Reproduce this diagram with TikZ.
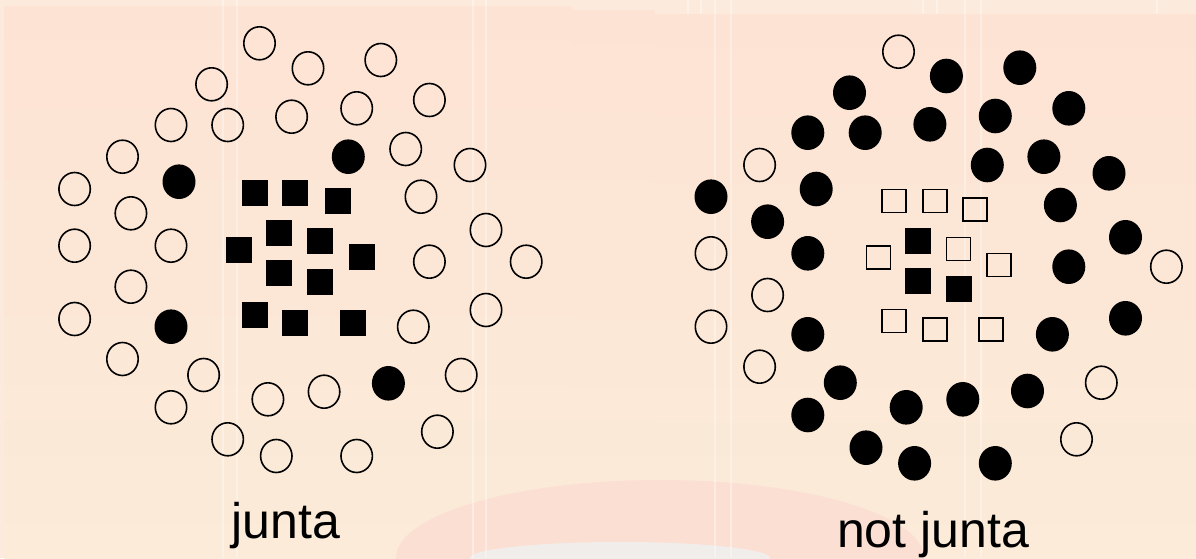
\documentclass[tikz,border=0pt]{standalone}
\usepackage{fontspec}
\setmainfont{Liberation Sans}
\usetikzlibrary{shapes.geometric}
\definecolor{bgtop}{HTML}{FDE3D4}
\definecolor{bgbot}{HTML}{FBEBD8}
\definecolor{bgstrip}{HTML}{FCEADC}
\definecolor{pinkarc}{HTML}{FCDFD3}
\definecolor{greyarc}{HTML}{F1EDEA}
\tikzset{
  opencirc/.style={ellipse,draw=black,line width=0.8pt,fill=none,minimum width=15.7pt,minimum height=16.5pt,inner sep=0pt},
  fullcirc/.style={ellipse,fill=black,minimum width=16.5pt,minimum height=17.3pt,inner sep=0pt},
  fullsq/.style={rectangle,fill=black,minimum size=13pt,inner sep=0pt},
  opensq/.style={rectangle,draw=black,line width=0.7pt,minimum width=12pt,minimum height=11.5pt,inner sep=0pt},
  label/.style={font=\fontsize{25pt}{30pt}\selectfont,anchor=base,inner sep=0pt},
  faint/.style={draw=white,opacity=0.35,line width=0.6pt}
}
\begin{document}
\begin{tikzpicture}[x=0.5pt,y=-0.5pt]
\useasboundingbox (0,0) rectangle (1196,558);
% background
\fill[bgstrip] (0,0) rectangle (1196,558);
\shade[top color=bgtop,bottom color=bgbot] (4,6) rectangle (572,558);
\shade[top color=bgtop,bottom color=bgbot] (572,10) rectangle (655,558);
\shade[top color=bgtop,bottom color=bgbot] (655,14) rectangle (1196,558);
\fill[pinkarc] (660,558) ellipse[x radius=264,y radius=78];
\fill[greyarc] (620,558) ellipse[x radius=150,y radius=16];
\foreach \xx in {223,237,473,486}{\draw[faint] (\xx,0) -- (\xx,558);}
\foreach \xx in {715,731,965,981}{\draw[faint] (\xx,0) -- (\xx,558);}
\foreach \xx in {688,701,923,937,1157}{\draw[faint] (\xx,0) -- (\xx,14);}
% left: junta
\foreach \px/\py [count=\i] in {259.5/43.3,308/68.3,380.8/60,211.6/84.3,429.4/100,171/125,227.7/125,291.6/116.7,356.7/108.3,405.7/149,122.5/156.7,470/165,74.6/189,130.9/213.3,421/196.7,486/230,74.6/245.7,171/245.7,429.4/261.7,526.2/261.7,130.9/286.7,74.6/319,413.3/326.7,486/310,122.5/359,203.6/375,461.2/375,171/407.3,267.9/399.3,324.1/391.7,437.4/431.7,227.7/439.3,276.3/456,356.7/456}
  \node[opencirc] (lo\i) at (\px,\py) {};
\foreach \px/\py [count=\i] in {179/181.7,348.3/156.7,171/326.7,388.4/383.3}
  \node[fullcirc] (lf\i) at (\px,\py) {};
\foreach \px/\py [count=\i] in {255.3/193.3,295.4/193.3,337.5/201,279.4/233.3,319.6/240.7,239.2/250,361.7/257.3,279.4/273,319.6/282,255.3/314.5,295.4/323.3,353.4/323.3}
  \node[fullsq] (ls\i) at (\px,\py) {};
\node[label] (tjunta) at (286,538) {junta};
% right: not junta
\foreach \px/\py [count=\i] in {898.5/51.7,759.6/165,711/253.3,1166.4/266.7,767.6/295,711/326.7,759.6/366.7,1101.3/382.7,1076.5/439.3}
  \node[opencirc] (ro\i) at (\px,\py) {};
\foreach \px/\py [count=\i] in {946.4/76,1019.8/67.7,849.5/92.7,1068.8/108.3,807.8/132.7,865.2/132.7,929.9/124.3,995.3/116,987.3/165,1043.9/156.7,1109/173.3,711/196.7,816.2/189,767.6/221.7,1060.4/205,1125.5/237.3,807.8/253.3,1068.8/266.7,807.8/334.3,1052.4/334.3,1125.5/318.3,840.3/382.7,807.8/415,906.2/407.3,962.8/399.3,1027.5/391,866/447.7,914.6/463.3,995.3/463.3}
  \node[fullcirc] (rf\i) at (\px,\py) {};
\foreach \px/\py [count=\i] in {893.9/201,934.9/201,975/209.3,958.6/249,878.2/257.3,998.8/265,893.9/321,934.9/329.3,991.1/329.3}
  \node[opensq] (rq\i) at (\px,\py) {};
\foreach \px/\py [count=\i] in {918.4/241,918.4/281,958.6/289}
  \node[fullsq] (rs\i) at (\px,\py) {};
\node[label] (tnotjunta) at (933,547) {not junta};
\end{tikzpicture}
\end{document}
